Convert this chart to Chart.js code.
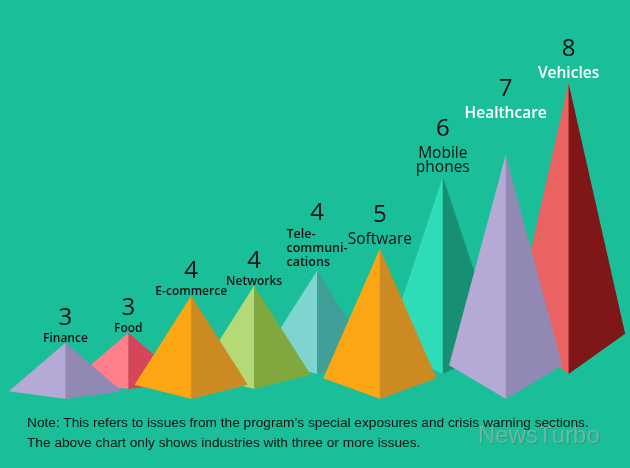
<!DOCTYPE html>
<html>
<head>
<meta charset="utf-8">
<script src="https://cdn.jsdelivr.net/npm/chart.js@4"></script>
<style>
  body { margin: 0; background: #1abf9a; }
  #wrap { position: relative; width: 630px; height: 468px; overflow: hidden; }
  #note { position: absolute; left: 27px; top: 413px; font: 13.7px "Liberation Sans", Arial, sans-serif; line-height: 20px; color: #111; white-space: nowrap; }
  #mark { position: absolute; left: 478px; top: 423px; font: 24px "Liberation Sans", Arial, sans-serif; line-height: 24px; color: rgba(150,185,172,0.65); text-shadow: 1px 1px 0 rgba(0,60,45,0.2); }
</style>
</head>
<body>
<div id="wrap">
  <canvas id="myChart" width="630" height="468"></canvas>
  <div id="mark">NewsTurbo</div>
  <div id="note">Note: This refers to issues from the program’s special exposures and crisis warning sections.<br>The above chart only shows industries with three or more issues.</div>
</div>
<script>
// data
const categories = ['Finance', 'Food', 'E-commerce', 'Networks', ['Tele-', 'communi-', 'cations'], 'Software', ['Mobile', 'phones'], 'Healthcare', 'Vehicles'];
const issues = [3, 3, 4, 4, 4, 5, 6, 7, 8];
const yMin = 1.8, yMax = 9;

// styles
const leftColors  = ['#b5a9d6', '#ff808b', '#fca614', '#b5d977', '#7ed4cf', '#fca614', '#2fdcb8', '#b5a9d6', '#ea6363'];
const rightColors = ['#9189b4', '#d5465a', '#cc8b22', '#80a83e', '#40a097', '#cc8b22', '#168f73', '#9189b4', '#7f1617'];
const rows = [0, 1, 0, 1, 2, 0, 2, 0, 2];     // 0 = front row, 2 = back row
const rowLift = [0, 10, 25];
const nameSize = [12, 12, 12, 12, 12.5, 15.5, 15.5, 15.5, 15.5];
const nameWeight = ['600', '600', '600', '600', '600', '400', '500', '600', '600'];
const nameColor = ['#111', '#111', '#111', '#111', '#111', '#111', '#111', '#fff', '#fff'];
const nameAlign = ['center', 'center', 'center', 'center', 'left', 'center', 'center', 'center', 'center'];
const labelRaise = [0, 0, 0, 0, 0, 0, 0, 32, 0];

const pyramids = {
  id: 'pyramids',
  beforeDraw(chart) {
    const c = chart.ctx;
    c.save();
    c.fillStyle = '#1abf9a';
    c.fillRect(0, 0, chart.width, chart.height);
    c.restore();
  },
  afterDatasetsDraw(chart) {
    const c = chart.ctx;
    const meta = chart.getDatasetMeta(0);
    const order = meta.data.map((b, i) => i).sort((a, b) => rows[b] - rows[a] || a - b);
    const tops = [];

    c.save();
    order.forEach(i => {
      const p = meta.data[i].getProps(['x', 'y', 'base', 'width'], true);
      const lift = rowLift[rows[i]];
      const top = p.y - lift;
      const front = p.base - lift;
      const half = p.width * 0.9;
      const side = front - (front - top) * 0.138;
      tops[i] = { x: p.x, y: top };

      c.fillStyle = leftColors[i];
      c.beginPath();
      c.moveTo(p.x, top);
      c.lineTo(p.x - half, side);
      c.lineTo(p.x + 0.5, front);
      c.lineTo(p.x + 0.5, top);
      c.closePath();
      c.fill();

      c.fillStyle = rightColors[i];
      c.beginPath();
      c.moveTo(p.x, top);
      c.lineTo(p.x, front);
      c.lineTo(p.x + half, side);
      c.closePath();
      c.fill();
    });

    // labels
    c.textBaseline = 'alphabetic';
    tops.forEach((t, i) => {
      const lines = [].concat(categories[i]);
      const size = nameSize[i];
      const lh = 14;
      const gap = (lines.length > 1 || size > 14) ? 5 : 1;
      const last = t.y - gap - labelRaise[i];
      const first = last - (lines.length - 1) * lh;

      c.font = nameWeight[i] + ' ' + size + 'px "Open Sans"';
      c.fillStyle = nameColor[i];
      let lx = t.x;
      if (nameAlign[i] === 'left') {
        const w = Math.max(...lines.map(s => c.measureText(s).width));
        lx = t.x - w / 2;
        c.textAlign = 'left';
      } else {
        c.textAlign = 'center';
      }
      lines.forEach((s, k) => c.fillText(s, lx, first + k * lh));

      c.textAlign = 'center';
      c.font = '400 24px "Open Sans"';
      c.fillStyle = '#111';
      c.fillText(String(issues[i]), t.x, first - size * 1.4);
    });
    c.restore();
  }
};

new Chart(document.getElementById('myChart'), {
  type: 'bar',
  data: {
    labels: categories,
    datasets: [{
      label: 'Issues',
      data: issues,
      base: yMin,
      backgroundColor: 'rgba(0,0,0,0)',
      borderWidth: 0,
      barPercentage: 1,
      categoryPercentage: 1
    }]
  },
  options: {
    responsive: false,
    animation: false,
    layout: { padding: { left: 34, right: 30, top: 61, bottom: 69 } },
    scales: {
      x: { display: false },
      y: { display: false, min: yMin, max: yMax }
    },
    plugins: {
      legend: { display: false },
      tooltip: { enabled: false }
    }
  },
  plugins: [pyramids]
});
</script>
</body>
</html>
